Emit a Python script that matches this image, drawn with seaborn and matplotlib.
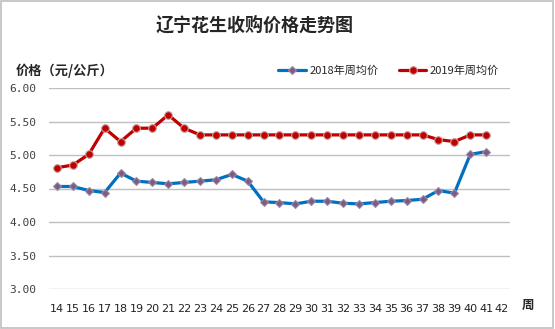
import matplotlib
matplotlib.use("Agg")
import matplotlib.pyplot as plt
import seaborn as sns
import pandas as pd
from matplotlib.patches import Rectangle

weeks = list(range(14, 43))
weeks_2018 = list(range(14, 42))
price_2018 = [4.53, 4.53, 4.47, 4.44, 4.73, 4.61, 4.59, 4.57, 4.59, 4.61, 4.63, 4.71, 4.61,
              4.30, 4.29, 4.27, 4.31, 4.31, 4.28, 4.27, 4.29, 4.31, 4.32, 4.34, 4.47, 4.43, 5.01, 5.05]
weeks_2019 = list(range(14, 42))
price_2019 = [4.81, 4.85, 5.01, 5.40, 5.20, 5.40, 5.40, 5.60, 5.40, 5.30, 5.30, 5.30, 5.30,
              5.30, 5.30, 5.30, 5.30, 5.30, 5.30, 5.30, 5.30, 5.30, 5.30, 5.30, 5.23, 5.20, 5.30, 5.30]
y_ticks = [3.0, 3.5, 4.0, 4.5, 5.0, 5.5, 6.0]
label_2018 = "2018年周均价"
label_2019 = "2019年周均价"

sns.set_style("white")
plt.rcParams['font.family'] = ['Noto Sans CJK SC', 'DejaVu Sans']

fig = plt.figure(figsize=(5.55, 3.29), dpi=100)
ax = fig.add_axes([49/555, 1-289/329, (510-49)/555, (289-88)/329])

df18 = pd.DataFrame({"week": weeks_2018, "price": price_2018})
df19 = pd.DataFrame({"week": weeks_2019, "price": price_2019})

sns.lineplot(data=df18, x="week", y="price", ax=ax, color="#0070C0", linewidth=2.3,
             marker="D", markersize=4.5, markerfacecolor="#7E5C82", markeredgecolor="#9A8AA6",
             markeredgewidth=0.8, label=label_2018)
sns.lineplot(data=df19, x="week", y="price", ax=ax, color="#C00000", linewidth=2.3,
             marker="o", markersize=5.5, markerfacecolor="#C00000", markeredgecolor="#C8A0A0",
             markeredgewidth=0.8, label=label_2019)

ax.set_xlim(weeks[0] - 0.5, weeks[-1] + 0.5)
ax.set_ylim(y_ticks[0], y_ticks[-1])
ax.set_xticks(weeks)
ax.set_xticklabels([str(w) for w in weeks], fontsize=8, color="#222222", family="DejaVu Sans")
ax.set_yticks(y_ticks)
ax.set_yticklabels([f"{v:.2f}" for v in y_ticks], fontsize=8, color="#404040", family="DejaVu Sans Mono")
ax.tick_params(axis="both", length=0)
ax.tick_params(axis="x", pad=11)
ax.tick_params(axis="y", pad=9)
ax.grid(axis="y", color="#BFBFBF", linewidth=1)
for s in ax.spines.values():
    s.set_visible(False)
ax.set_xlabel("")
ax.set_ylabel("")

leg = ax.legend(loc="center right", bbox_to_anchor=(499/555, 1-71/329), bbox_transform=fig.transFigure,
                ncol=2, frameon=False, fontsize=8, handlelength=2.5, handletextpad=0.3,
                columnspacing=1.8, borderaxespad=0, borderpad=0)

fig.text(255/555, 1-25/329, "辽宁花生收购价格走势图", ha="center", va="center",
         fontsize=13, fontweight="bold")
fig.text(16/555, 1-71/329, "价格（元/公斤）", ha="left", va="center",
         fontsize=9.5, fontweight="bold")
fig.text(528/555, 1-305/329, "周", ha="center", va="center", fontsize=9, fontweight="bold")

fig.patches.append(Rectangle((0.002, 0.003), 0.995, 0.994, transform=fig.transFigure,
                             fill=False, edgecolor="#BFBFBF", linewidth=1.2))

fig.savefig("out.png", dpi=100)
